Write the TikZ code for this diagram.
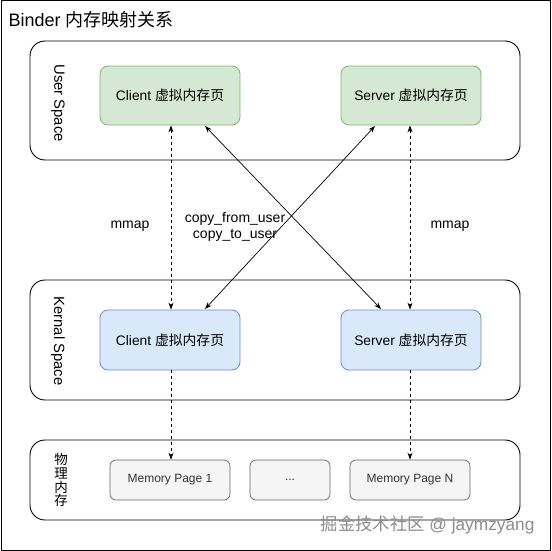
\documentclass[tikz,border=0pt]{standalone}
\usepackage{fontspec}
\setmainfont{Liberation Sans}
\newfontfamily\cjk{Noto Sans CJK SC}
\usetikzlibrary{arrows.meta}
\definecolor{gfill}{HTML}{D5E8D4}\definecolor{gline}{HTML}{82B366}
\definecolor{bfill}{HTML}{DAE8FC}\definecolor{bline}{HTML}{6C8EBF}
\definecolor{mfill}{HTML}{F5F5F5}\definecolor{mline}{HTML}{666666}
\definecolor{mtext}{HTML}{333333}
\definecolor{wmark}{HTML}{8C8C8C}
\tikzset{
  container/.style={draw, line width=0.9pt, rounded corners=15pt, minimum width=490pt, minimum height=#1, inner sep=0pt},
  userbox/.style={draw=gline, fill=gfill, line width=0.8pt, rounded corners=8pt, minimum width=140pt, minimum height=59pt, font=\fontsize{13.8}{15}\selectfont},
  kernbox/.style={draw=bline, fill=bfill, line width=0.8pt, rounded corners=8pt, minimum width=140pt, minimum height=60pt, font=\fontsize{13.8}{15}\selectfont},
  membox/.style={draw=mline, fill=mfill, line width=0.7pt, rounded corners=6pt, minimum width=#1, minimum height=40pt, text=mtext, font=\fontsize{12}{14}\selectfont},
  lbl/.style={font=\fontsize{14}{16}\selectfont, align=center},
  sidelbl/.style={font=\fontsize{14.8}{16}\selectfont, rotate=-90},
  dasharrow/.style={dashed, line width=0.7pt, -{Stealth[length=7pt,width=5pt]}},
  solidarrow/.style={line width=0.7pt, {Stealth[length=7pt,width=5pt]}-{Stealth[length=7pt,width=5pt]}},
}
\begin{document}
\begin{tikzpicture}[x=1pt,y=-1pt]
\useasboundingbox (0,0) rectangle (551,551);
\draw[line width=1pt] (1,1) rectangle (550,550);
\node[anchor=west, font=\fontsize{18}{20}\selectfont] (title) at (5,20) {Binder {\cjk 内存映射关系}};

\node[container=119pt] (us) at (275,100.5) {};
\node[container=120pt] (ks) at (275,340) {};
\node[container=80pt] (pm) at (275,480) {};

\node[sidelbl] (usl) at (58,103) {User Space};
\node[sidelbl] (ksl) at (58,341) {Kernal Space};
\node[lbl, font=\fontsize{13.5}{13.8}\selectfont\cjk] (pml) at (61,480) {物\\理\\内\\存};

\node[userbox] (cu) at (170,95.5) {Client {\cjk 虚拟内存页}};
\node[userbox] (su) at (411,95.5) {Server {\cjk 虚拟内存页}};
\node[kernbox] (ck) at (170,340) {Client {\cjk 虚拟内存页}};
\node[kernbox] (sk) at (411,340) {Server {\cjk 虚拟内存页}};

\node[membox=120pt] (m1) at (170,480) {Memory Page 1};
\node[membox=80pt] (md) at (290,480) {...};
\node[membox=120pt] (mn) at (410,480) {Memory Page N};

\draw[dasharrow, {Stealth[length=7pt,width=5pt]}-{Stealth[length=7pt,width=5pt]}] ([xshift=1pt]cu.south) -- ([xshift=1pt]ck.north);
\draw[dasharrow, {Stealth[length=7pt,width=5pt]}-{Stealth[length=7pt,width=5pt]}] ([xshift=-1pt]su.south) -- ([xshift=-1pt]sk.north);
\draw[dasharrow] ([xshift=1pt]ck.south) -- ([xshift=1pt]m1.north);
\draw[dasharrow] ([xshift=-1pt]sk.south) -- ([xshift=0pt]mn.north);

\coordinate (a1) at (205,126);
\coordinate (a2) at (381,309);
\coordinate (b1) at (375,126);
\coordinate (b2) at (205,309);
\draw[solidarrow] (a1) -- (a2);
\draw[solidarrow] (b1) -- (b2);

\node[lbl] (mm1) at (130,226.5) {mmap};
\node[lbl] (mm2) at (450,226.5) {mmap};
\node[lbl, inner sep=0pt] (cp) at (235,227) {copy\_from\_user\\[0pt]copy\_to\_user};

\node[anchor=east, text=wmark, font=\fontsize{17.3}{19}\selectfont] (wm) at (538,525) {{\cjk 掘金技术社区} @ jaymzyang};
\end{tikzpicture}
\end{document}
